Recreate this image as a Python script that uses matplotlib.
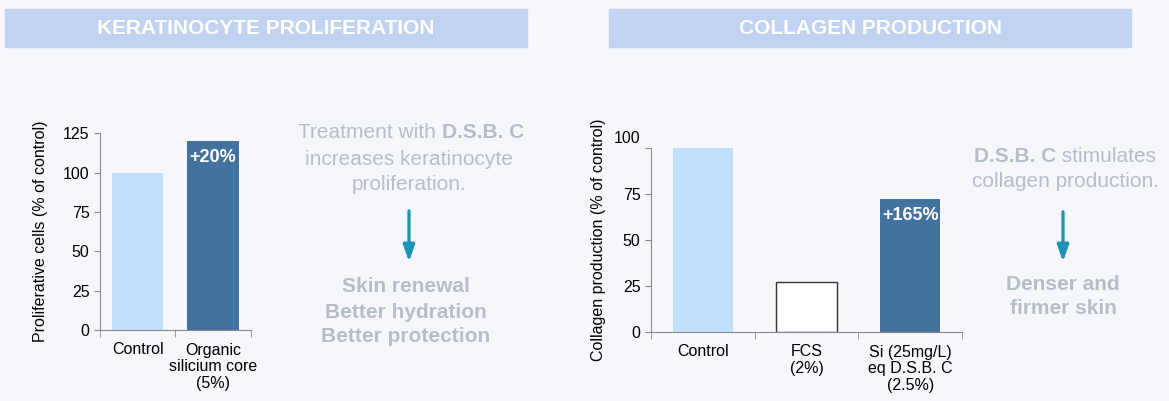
import numpy as np
import matplotlib.pyplot as plt
from matplotlib.patches import Rectangle
from matplotlib.transforms import ScaledTranslation

plt.rcParams['font.family'] = ['Liberation Sans', 'DejaVu Sans']

# data
kera_labels = ["Control", "Organic\nsilicium core\n(5%)"]
kera_values = [100, 120]
kera_colors = ["#BFDFFD", "#44729F"]

coll_labels = ["Control", "FCS\n(2%)", "Si (25mg/L)\neq D.S.B. C\n(2.5%)"]
coll_values = [100, 27, 72]
coll_colors = ["#BFDFFD", "#FFFFFF", "#44729F"]
coll_edges = ["none", "#333333", "none"]

BG = "#F5F7FC"
HEAD = "#C1D3F0"
GREY = "#B5BEC6"
AXC = "#888888"
TEAL = "#1E93B5"

W, H = 1169, 401
fig = plt.figure(figsize=(W / 100, H / 100), dpi=100, facecolor=BG)
renderer = fig.canvas.get_renderer()


def fx(px):
    return px / W


def fy(py):
    return 1 - py / H


def mixed_line(xc, y, parts, size=15):
    # draw a centred line made of (text, weight) pieces
    texts = [fig.text(0, fy(y), s, va="center", ha="left", color=GREY,
                      fontsize=size, fontweight=w) for s, w in parts]
    widths = [t.get_window_extent(renderer).width for t in texts]
    x = xc - sum(widths) / 2
    for t, w in zip(texts, widths):
        t.set_x(fx(x))
        x += w


# header boxes
for x0, x1, title in [(5, 527, "KERATINOCYTE PROLIFERATION"),
                      (609, 1131, "COLLAGEN PRODUCTION")]:
    fig.patches.append(Rectangle((fx(x0), fy(47)), fx(x1 - x0), (47 - 9) / H,
                                 transform=fig.transFigure, color=HEAD, zorder=0))
    fig.text(fx((x0 + x1) / 2), fy(29), title, ha="center", va="center",
             color="white", fontsize=15, fontweight="bold")


def style_axes(ax, n, ymax, step):
    ax.set_facecolor(BG)
    for s in ["top", "right"]:
        ax.spines[s].set_visible(False)
    for s in ["left", "bottom"]:
        ax.spines[s].set_color(AXC)
    ax.set_xlim(-0.5, n - 0.5)
    ax.set_ylim(0, ymax)
    ax.set_yticks(np.arange(0, ymax + 1, step))
    ax.set_xticks(np.arange(n))
    ax.set_xticks(np.arange(n + 1) - 0.5, minor=True)
    ax.tick_params(axis="x", which="major", length=0, pad=9, labelsize=11.5)
    ax.tick_params(axis="x", which="minor", length=5, color=AXC)
    ax.tick_params(axis="y", length=4, color=AXC, labelsize=11.5)


# keratinocyte chart
ax1 = fig.add_axes([fx(100), fy(330), fx(150.7), (330 - 133.3) / H])
x1 = np.arange(len(kera_values))
ax1.bar(x1, kera_values, width=0.68, color=kera_colors)
style_axes(ax1, len(kera_values), 125, 25)
ax1.set_xticklabels(kera_labels, va="top", linespacing=1.15)
ax1.set_ylabel("Proliferative cells (% of control)", fontsize=11.5, labelpad=11)
ax1.text(x1[1], kera_values[1] - 5, "+20%", ha="center", va="top",
         color="white", fontsize=13, fontweight="bold")

# collagen chart
ax2 = fig.add_axes([fx(651), fy(332), fx(311), (332 - 147.7) / H])
x2 = np.arange(len(coll_values))
ax2.bar(x2, coll_values, width=0.58, color=coll_colors,
        edgecolor=coll_edges, linewidth=1)
style_axes(ax2, len(coll_values), 100, 25)
ax2.set_xticklabels(coll_labels, va="top", linespacing=1.15)
ax2.set_ylabel("Collagen production (% of control)", fontsize=11.5, labelpad=6)
ax2.text(x2[2], coll_values[2] - 4, "+165%", ha="center", va="top",
         color="white", fontsize=13, fontweight="bold")
# the top label sits a little above its tick in the original
top_lab = ax2.get_yticklabels()[-1]
top_lab.set_transform(top_lab.get_transform() + ScaledTranslation(0, 0.11, fig.dpi_scale_trans))

# side texts
mixed_line(411, 133, [("Treatment with ", "normal"), ("D.S.B. C", "bold")])
mixed_line(409, 159, [("increases keratinocyte", "normal")])
mixed_line(409, 184, [("proliferation.", "normal")])
for y, s in [(287, "Skin renewal"), (312, "Better hydration"), (337, "Better protection")]:
    mixed_line(406, y, [(s, "bold")])

mixed_line(1065, 157, [("D.S.B. C", "bold"), (" stimulates", "normal")])
mixed_line(1065, 182, [("collagen production.", "normal")])
for y, s in [(284, "Denser and"), (309, "firmer skin")]:
    mixed_line(1063, y, [(s, "bold")])

# arrows
for xa, ya0, ya1 in [(409, 208, 264), (1063, 209, 264)]:
    fig.add_artist(plt.annotate("", xy=(fx(xa), fy(ya1)), xytext=(fx(xa), fy(ya0)),
                                xycoords="figure fraction",
                                arrowprops=dict(arrowstyle="-|>,head_length=1.0,head_width=0.35",
                                                color=TEAL, lw=2)))

fig.savefig("out.png", dpi=100, facecolor=BG)
